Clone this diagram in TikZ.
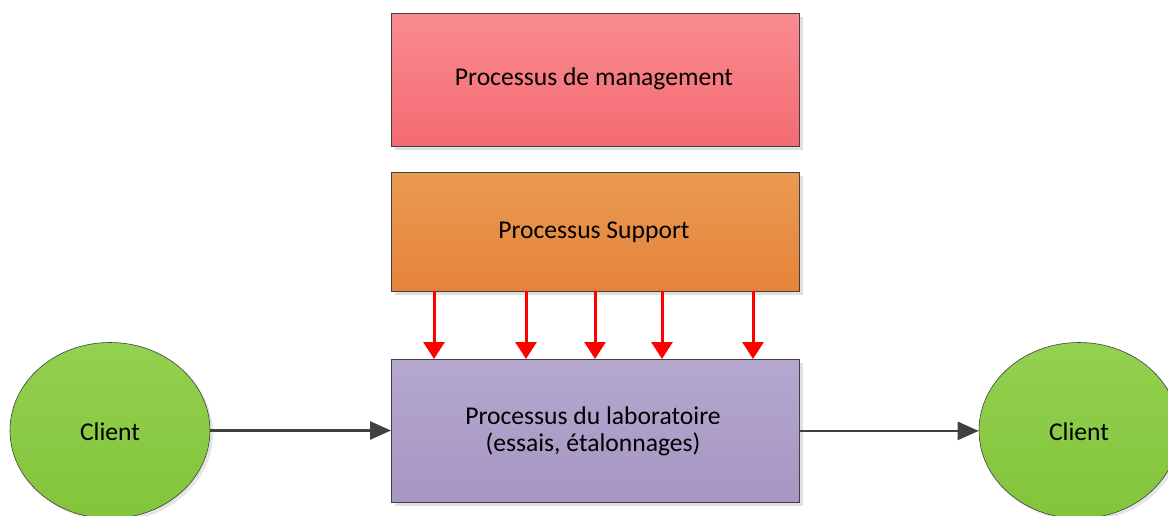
\documentclass[tikz,border=0pt]{standalone}
\usepackage{fontspec}
\setmainfont{Carlito}
\usetikzlibrary{shapes.geometric,shadows,arrows.meta}
\definecolor{edgegray}{HTML}{404040}
\tikzset{
  procbox/.style={draw=edgegray, line width=0.8pt, minimum width=408pt, anchor=north west, inner sep=0pt,
    drop shadow={shadow xshift=4pt, shadow yshift=-4pt, fill=black!12, opacity=1}},
  mgmt/.style={procbox, minimum height=133pt, top color=mgtop, bottom color=mgbot},
  supp/.style={procbox, minimum height=119pt, top color=sptop, bottom color=spbot},
  labo/.style={procbox, minimum height=143pt, top color=lbtop, bottom color=lbbot, align=center},
  client/.style={ellipse, draw=edgegray, line width=0.6pt, minimum width=200pt, minimum height=176pt, inner sep=0pt,
    top color=grtop, bottom color=grbot,
    drop shadow={shadow xshift=3pt, shadow yshift=-3pt, fill=black!10, opacity=1}},
  flow/.style={draw=edgegray, line width=2.6pt, -{Triangle[length=21pt, width=18pt]}},
  feed/.style={draw=red, line width=3pt, -{Triangle[length=17pt, width=21pt]}},
  lbl/.style={font=\fontsize{25.6}{27}\selectfont}
}
\definecolor{mgtop}{HTML}{F98B90}
\definecolor{mgbot}{HTML}{F46B72}
\definecolor{sptop}{HTML}{EA9A52}
\definecolor{spbot}{HTML}{E5833A}
\definecolor{lbtop}{HTML}{B4A8CF}
\definecolor{lbbot}{HTML}{A696C2}
\definecolor{grtop}{HTML}{93D150}
\definecolor{grbot}{HTML}{82C43A}
\begin{document}
\begin{tikzpicture}[x=1pt, y=-1pt]
\useasboundingbox (0,0) rectangle (1168,515);
\clip (0,0) rectangle (1168,515);
\node[mgmt] (mg) at (391,13) {};
\node[lbl] (mgt) at (594,79) {Processus de management};
\node[supp] (sp) at (391,172) {};
\node[lbl] (spt) at (594,232) {Processus Support};
\node[labo] (lb) at (391,359) {};
\node[lbl, align=center] (lbt) at (593,431) {Processus du laboratoire\\(essais, étalonnages)};
\node[client] (c1) at (110,430.5) {};
\node[lbl] (c1t) at (110,432) {Client};
\node[client] (c2) at (1079,430.5) {};
\node[lbl] (c2t) at (1079,432) {Client};
\draw[flow] (c1.east) -- (c1.east -| lb.west);
\draw[flow] (lb.east) -- (lb.east -| c2.west);
\foreach \xx [count=\i] in {434,526,595,662,753} {
  \coordinate (s\i) at (\xx,291);
  \coordinate (t\i) at (\xx,359);
  \draw[feed] (s\i) -- (t\i);
}
\end{tikzpicture}
\end{document}
